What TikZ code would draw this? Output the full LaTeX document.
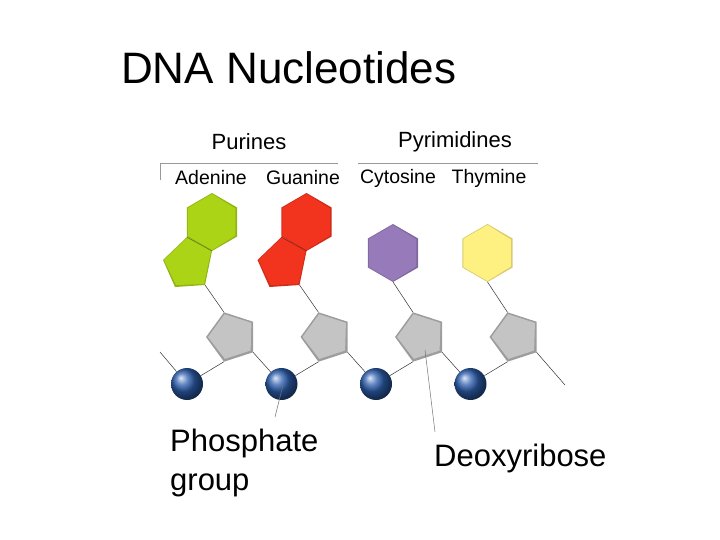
\documentclass[tikz,border=0pt]{standalone}
\usepackage{fontspec}
\setmainfont{Liberation Sans}
\usetikzlibrary{calc}
\begin{document}
\begin{tikzpicture}[x=1pt,y=-1pt]
\definecolor{ade}{RGB}{172,212,22}
\definecolor{gua}{RGB}{242,52,30}
\definecolor{cyt}{RGB}{150,122,186}
\definecolor{thy}{RGB}{255,240,130}
\definecolor{sug}{RGB}{196,196,196}
\definecolor{pho}{RGB}{45,95,175}
\tikzset{bond/.style={draw=black!80,line width=0.5pt},
 lead/.style={draw=black!55,line width=0.5pt},
 hdr/.style={font=\fontsize{22}{26}\selectfont},
 lab/.style={font=\fontsize{19.5}{22}\selectfont}}
\useasboundingbox (0,0) rectangle (720,540);
\node[font=\fontsize{44}{50}\selectfont,anchor=west,inner sep=0pt] (title) at (121,68) {DNA Nucleotides};
\node[hdr] (pur) at (249,142) {Purines};
\node[hdr] (pyr) at (455,142) {Pyrimidines};
\draw[black!40] (160,180) -- (160,163) -- (338,163);
\draw[black!40] (358,163) -- (538,163);
\node[lab] (la) at (211,178) {Adenine};
\node[lab] (lg) at (303,178) {Guanine};
\node[lab] (lc) at (398,178) {Cytosine};
\node[lab] (lt) at (489,178) {Thymine};
% sugars and phosphates
\foreach \i in {0,1,2,3}{
  \coordinate (s\i) at (232+94.5*\i,337);
  \fill[sug!80!black] ($(s\i)+(-180:26)$) -- ($(s\i)+(-108:26)$) -- ($(s\i)+(-36:26)$) -- ($(s\i)+(36:26)$) -- ($(s\i)+(108:26)$) -- cycle;
  \fill[sug] ($(s\i)+(-180:24)$) -- ($(s\i)+(-108:24)$) -- ($(s\i)+(-36:24)$) -- ($(s\i)+(36:23)$) -- ($(s\i)+(108:23)$) -- cycle;
  \coordinate (st\i) at ($(s\i)+(-108:26)$);
  \coordinate (sb\i) at ($(s\i)+(108:26)$);
  \coordinate (sr\i) at ($(s\i)+(36:26)$);
  \node[circle,minimum size=32pt,inner sep=0pt,shading=ball,ball color=pho] (p\i) at (187+94.5*\i,384) {};
  \draw[bond] (p\i) -- (sb\i);
}
\coordinate (l0) at (160,352);
\coordinate (r3) at (565,385);
\draw[bond] (l0) -- (p0);
\draw[bond] (sr0) -- (p1);
\draw[bond] (sr1) -- (p2);
\draw[bond] (sr2) -- (p3);
\draw[bond] (sr3) -- (r3);
% purines
\foreach \i/\c in {0/ade,1/gua}{
  \coordinate (h\i) at (212+94.5*\i,222);
  \fill[\c!85!black] ($(h\i)+(-90:29)$) -- ($(h\i)+(-30:29)$) -- ($(h\i)+(30:29)$) -- ($(h\i)+(90:29)$) -- ($(h\i)+(150:29)$) -- ($(h\i)+(-150:29)$) -- cycle;
  \fill[\c] ($(h\i)+(-90:28)$) -- ($(h\i)+(-30:27)$) -- ($(h\i)+(30:27)$) -- ($(h\i)+(90:28)$) -- ($(h\i)+(150:28)$) -- ($(h\i)+(-150:28)$) -- cycle;
  \fill[\c!85!black] ($(h\i)+(-25,15)$) -- ($(h\i)+(0,29)$) -- ($(h\i)+(-7,63)$) -- ($(h\i)+(-37,65)$) -- ($(h\i)+(-49,38)$) -- cycle;
  \fill[\c] ($(h\i)+(-25,16)$) -- ($(h\i)+(-1,29)$) -- ($(h\i)+(-8,62)$) -- ($(h\i)+(-36,63)$) -- ($(h\i)+(-48,38)$) -- cycle;
  \draw[\c!55!black,line width=0.5pt] ($(h\i)+(-25,15)$) -- ($(h\i)+(0,29)$);
  \coordinate (b\i) at ($(h\i)+(-7,63)$);
  \draw[bond] (b\i) -- (st\i);
}
% pyrimidines
\foreach \i/\c in {2/cyt,3/thy}{
  \coordinate (h\i) at (204+94.5*\i,253);
  \fill[\c!85!black] ($(h\i)+(-90:29)$) -- ($(h\i)+(-30:29)$) -- ($(h\i)+(30:29)$) -- ($(h\i)+(90:29)$) -- ($(h\i)+(150:29)$) -- ($(h\i)+(-150:29)$) -- cycle;
  \fill[\c] ($(h\i)+(-90:28)$) -- ($(h\i)+(-30:27)$) -- ($(h\i)+(30:27)$) -- ($(h\i)+(90:28)$) -- ($(h\i)+(150:28)$) -- ($(h\i)+(-150:28)$) -- cycle;
  \coordinate (b\i) at ($(h\i)+(90:29)$);
  \draw[bond] (b\i) -- (st\i);
}
% leaders
\coordinate (pa) at (283,385);
\coordinate (pz) at (275,417);
\draw[lead] (pa) -- (pz);
\coordinate (da) at (425,350);
\coordinate (dz) at (435,432);
\draw[lead] (da) -- (dz);
\node[font=\fontsize{31}{39}\selectfont,anchor=north west,align=left,inner sep=0pt] (phos) at (170,429) {Phosphate\\group};
\node[font=\fontsize{31}{35}\selectfont,anchor=west,inner sep=0pt] (deo) at (434,458) {Deoxyribose};
\end{tikzpicture}
\end{document}
